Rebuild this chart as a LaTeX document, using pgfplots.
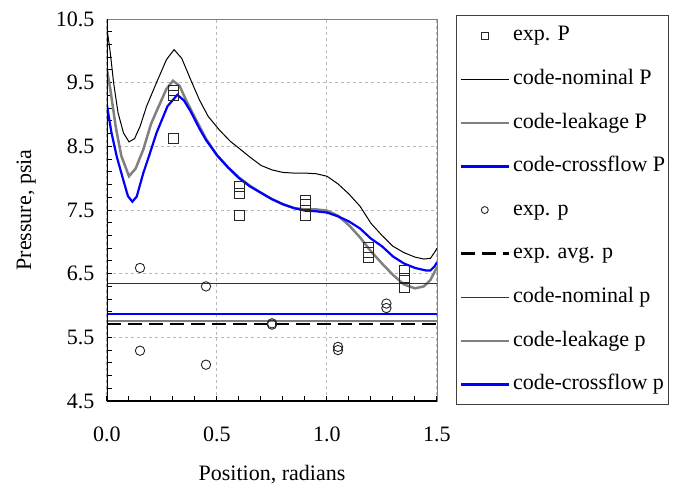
\documentclass[border=0pt]{standalone}
\usepackage{fontspec}
\setmainfont{Liberation Serif}
\usepackage{pgfplots}
\pgfplotsset{compat=1.18}

\definecolor{gridgray}{RGB}{185,185,185}
\definecolor{leakgray}{RGB}{128,128,128}
\definecolor{xblue}{RGB}{0,0,255}

\begin{document}
\begin{tikzpicture}[font=\fontsize{22}{26}\selectfont]
\useasboundingbox (-107pt,-84pt) rectangle (566pt,401pt);
\begin{axis}[
    scale only axis,
    width=330pt, height=382pt,
    xmin=0, xmax=1.5, ymin=4.5, ymax=10.5,
    xtick={0,0.5,1,1.5},
    ytick={4.5,5.5,6.5,7.5,8.5,9.5,10.5},
    minor x tick num=4, minor y tick num=4,
    tick pos=left, tick align=inside,
    major tick length=5pt, minor tick length=5pt,
    tick style={black, line width=1pt},
    grid=major,
    major grid style={gridgray, line width=1pt, dash pattern=on 3pt off 3pt},
    axis line style={draw=leakgray, line width=0.8pt},
    /pgf/number format/.cd, fixed, fixed zerofill, precision=1, assume math mode=true, /pgfplots/.cd,
    xticklabel style={yshift=-22pt},
    yticklabel style={xshift=-9pt},
    xlabel={Position, radians},
    ylabel={Pressure, psia},
    xlabel style={at={(rel axis cs:0.5,0)}, anchor=center, yshift=-74pt},
    ylabel style={at={(rel axis cs:-0.245,0.5)}, anchor=center},
    legend cell align=left,
    legend image code/.code={\draw[mark repeat=2,mark phase=2,#1] plot coordinates {(0pt,0pt) (24pt,0pt) (48pt,0pt)};},
    legend image post style={mark size=3.5pt},
    legend style={at={(1.058,1.0105)}, anchor=north west,
        draw=black!75, line width=0.8pt,
        inner xsep=3pt, inner ysep=10pt,
        row sep=23.1pt, column sep=3pt,
        nodes={inner sep=0pt, text height=15.5pt, text depth=5pt}},
]
% exp. P
\addplot[only marks, mark=square, mark size=5pt, mark options={black!85, line width=0.9pt}] coordinates {
  (0.30,9.38) (0.30,9.30) (0.30,8.62)
  (0.60,7.87) (0.60,7.76) (0.60,7.42)
  (0.90,7.65) (0.90,7.58) (0.90,7.42)
  (1.19,6.91) (1.19,6.84) (1.19,6.75)
  (1.35,6.55) (1.35,6.42) (1.35,6.29)
};
\addlegendentry{exp. P}
% code-nominal P
\addplot[black, line width=1pt] coordinates {
  (0.000,10.35) (0.015,9.97) (0.030,9.50) (0.050,9.03) (0.075,8.71)
  (0.100,8.57) (0.125,8.62) (0.150,8.81) (0.180,9.13) (0.225,9.50)
  (0.270,9.86) (0.305,10.02) (0.340,9.88) (0.380,9.55) (0.420,9.23)
  (0.460,8.97) (0.510,8.76) (0.560,8.58) (0.600,8.47) (0.650,8.33)
  (0.700,8.20) (0.750,8.13) (0.800,8.09) (0.850,8.08) (0.900,8.08)
  (0.950,8.07) (1.000,8.03) (1.050,7.91) (1.100,7.75) (1.150,7.56)
  (1.200,7.29) (1.250,7.10) (1.300,6.93) (1.350,6.83) (1.400,6.76)
  (1.440,6.73) (1.470,6.74) (1.490,6.84) (1.500,6.90)
};
\addlegendentry{code-nominal P}
% code-leakage P
\addplot[leakgray, line width=2.5pt] coordinates {
  (0.000,9.70) (0.015,9.40) (0.040,8.80) (0.065,8.35) (0.100,8.03)
  (0.130,8.15) (0.165,8.45) (0.200,8.85) (0.225,9.05) (0.270,9.40)
  (0.300,9.53) (0.330,9.45) (0.360,9.22) (0.400,8.95) (0.450,8.62)
  (0.500,8.36) (0.550,8.17) (0.600,8.01) (0.650,7.88) (0.700,7.77)
  (0.750,7.67) (0.800,7.59) (0.850,7.53) (0.900,7.51) (0.950,7.51)
  (1.000,7.49) (1.050,7.41) (1.100,7.26) (1.150,7.07) (1.200,6.85)
  (1.250,6.66) (1.300,6.48) (1.350,6.33) (1.400,6.27) (1.440,6.30)
  (1.470,6.40) (1.500,6.60)
};
\addlegendentry{code-leakage P}
% code-crossflow P
\addplot[xblue, line width=2.2pt] coordinates {
  (0.000,9.14) (0.020,8.72) (0.045,8.33) (0.075,7.96) (0.095,7.72)
  (0.115,7.63) (0.135,7.71) (0.165,8.08) (0.195,8.39) (0.225,8.71)
  (0.275,9.13) (0.320,9.31) (0.350,9.22) (0.380,9.05) (0.420,8.78)
  (0.450,8.60) (0.500,8.36) (0.550,8.17) (0.600,8.00) (0.650,7.87)
  (0.700,7.77) (0.750,7.67) (0.800,7.59) (0.850,7.53) (0.900,7.49)
  (0.950,7.48) (1.000,7.46) (1.050,7.40) (1.100,7.32) (1.150,7.21)
  (1.200,7.05) (1.250,6.93) (1.300,6.77) (1.350,6.66) (1.400,6.59)
  (1.450,6.55) (1.470,6.55) (1.490,6.62) (1.500,6.68)
};
\addlegendentry{code-crossflow P}
% exp. p
\addplot[only marks, mark=o, mark size=4.7pt, mark options={black!85, line width=0.9pt}] coordinates {
  (0.15,6.59) (0.15,5.29)
  (0.45,6.30) (0.45,5.07)
  (0.75,5.72) (0.75,5.70)
  (1.05,5.35) (1.05,5.30)
  (1.27,6.03) (1.27,5.96)
};
\addlegendentry{exp. p}
% exp. avg. p
\addplot[black, line width=2.5pt, dash pattern=on 14pt off 7pt] coordinates {(0,5.71) (1.5,5.71)};
\addlegendentry{exp. avg. p}
% code-nominal p
\addplot[black!80, line width=1pt] coordinates {(0,6.35) (1.5,6.35)};
\addlegendentry{code-nominal p}
% code-leakage p
\addplot[leakgray, line width=2.5pt] coordinates {(0,5.76) (1.5,5.76)};
\addlegendentry{code-leakage p}
% code-crossflow p
\addplot[xblue, line width=2.2pt] coordinates {(0,5.87) (1.5,5.87)};
\addlegendentry{code-crossflow p}

\draw[black, line width=2pt] (rel axis cs:0,1) -- (rel axis cs:0,0) -- (rel axis cs:1,0);
\end{axis}
\end{tikzpicture}
\end{document}
